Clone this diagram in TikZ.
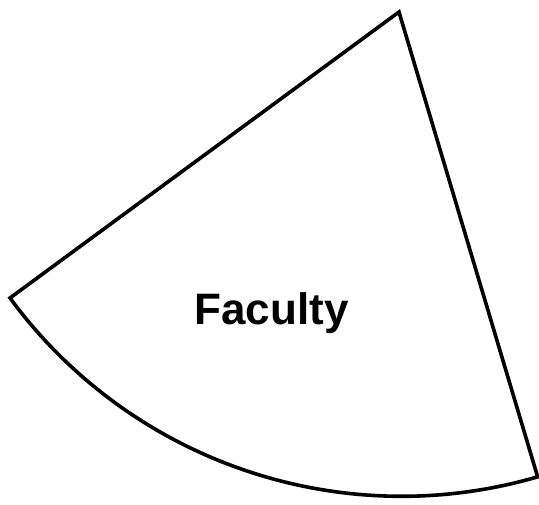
\documentclass[tikz,border=0pt]{standalone}
\usepackage{fontspec}
\setmainfont{Liberation Sans}
\usetikzlibrary{calc}

\begin{document}
\begin{tikzpicture}[
    x=1pt, y=1pt,
    sector/.style={draw=black, line width=3.6pt, line join=miter, fill=white},
    label/.style={font=\fontsize{44}{50}\selectfont\bfseries, anchor=base, inner sep=0pt},
  ]
    \useasboundingbox (0,0) rectangle (539,505);
    \coordinate (apex) at (399,493);
    \coordinate (west) at (10,207);
    % the arc runs from the west corner round to the south-east corner
    \draw[sector] (apex) -- (west) arc[start angle=216.3, end angle=286.25, radius=486] coordinate (southeast) -- cycle;
    \node[label] (faculty) at (271.5,180) {Faculty};
  \end{tikzpicture}
\end{document}
